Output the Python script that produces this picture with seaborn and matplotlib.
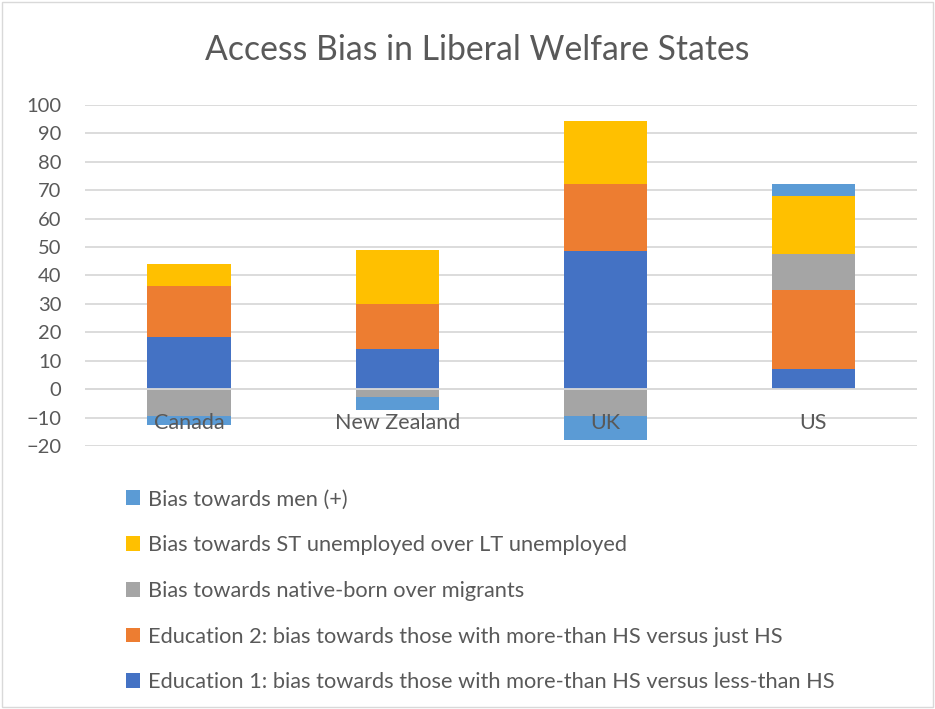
import numpy as np
import pandas as pd
import seaborn as sns
import matplotlib.pyplot as plt
from matplotlib.patches import Patch, Rectangle

countries = ["Canada", "New Zealand", "UK", "US"]
edu1 = [18.4, 14.1, 48.5, 7.0]
edu2 = [18.0, 16.0, 23.8, 27.9]
native = [-9.3, -2.9, -9.4, 12.6]
st_unemp = [7.7, 18.9, 22.1, 20.3]
men = [-3.5, -4.4, -8.5, 4.5]

series_names = [
    "Education 1: bias towards those with more-than HS versus less-than HS",
    "Education 2: bias towards those with more-than HS versus just HS",
    "Bias towards native-born over migrants",
    "Bias towards ST unemployed over LT unemployed",
    "Bias towards men (+)",
]
series_vals = [edu1, edu2, native, st_unemp, men]
colors = ["#4472C4", "#ED7D31", "#A5A5A5", "#FFC000", "#5B9BD5"]

sns.set_style("white")
plt.rcParams["font.family"] = ["Lato", "DejaVu Sans"]
txt = "#595959"

fig = plt.figure(figsize=(9.35, 7.09), dpi=100)
ax = fig.add_axes([0.091, 0.371, 0.89, 0.481])

# stack positives upward and negatives downward, like Excel
pos_base = np.zeros(len(countries))
neg_base = np.zeros(len(countries))
for name, vals, col in zip(series_names, series_vals, colors):
    v = np.array(vals)
    bottom = np.where(v >= 0, pos_base, neg_base)
    df = pd.DataFrame({"country": countries, "value": v})
    sns.barplot(data=df, x="country", y="value", bottom=bottom, color=col,
                width=0.4, ax=ax, saturation=1, edgecolor="none", zorder=3)
    pos_base = pos_base + np.where(v >= 0, v, 0)
    neg_base = neg_base + np.where(v < 0, v, 0)

ax.set_ylim(-20, 100)
ax.set_yticks(range(-20, 101, 10))
ax.set_xlim(-0.5, 3.5)
ax.grid(axis="y", color="#D9D9D9", linewidth=1.3)
ax.set_axisbelow(False)
ax.yaxis.set_zorder(0.5)
ax.xaxis.set_zorder(10)
for s in ax.spines.values():
    s.set_visible(False)
ax.spines["bottom"].set_position(("data", 0))
ax.axhline(0, color="#D9D9D9", linewidth=1.3, zorder=4)
ax.tick_params(axis="x", length=0, pad=17, labelsize=15.5, labelcolor=txt)
ax.tick_params(axis="y", length=0, pad=17, labelsize=14.5, labelcolor=txt)
ax.set_xlabel("")
ax.set_ylabel("")

fig.text(0.51, 0.93, "Access Bias in Liberal Welfare States", ha="center",
         va="center", fontsize=24.3, color=txt)

handles = [Patch(facecolor=c, edgecolor="none") for c in colors][::-1]
fig.legend(handles, series_names[::-1], loc="upper left",
           bbox_to_anchor=(0.125, 0.322), frameon=False, fontsize=15.7,
           labelcolor=txt, handlelength=0.65, handleheight=0.65,
           handletextpad=0.4, labelspacing=1.18, borderaxespad=0)

fig.patches.append(Rectangle((0.002, 0.003), 0.996, 0.994, transform=fig.transFigure,
                             fill=False, edgecolor="#D9D9D9", linewidth=1))

fig.savefig("out.png", dpi=100)
